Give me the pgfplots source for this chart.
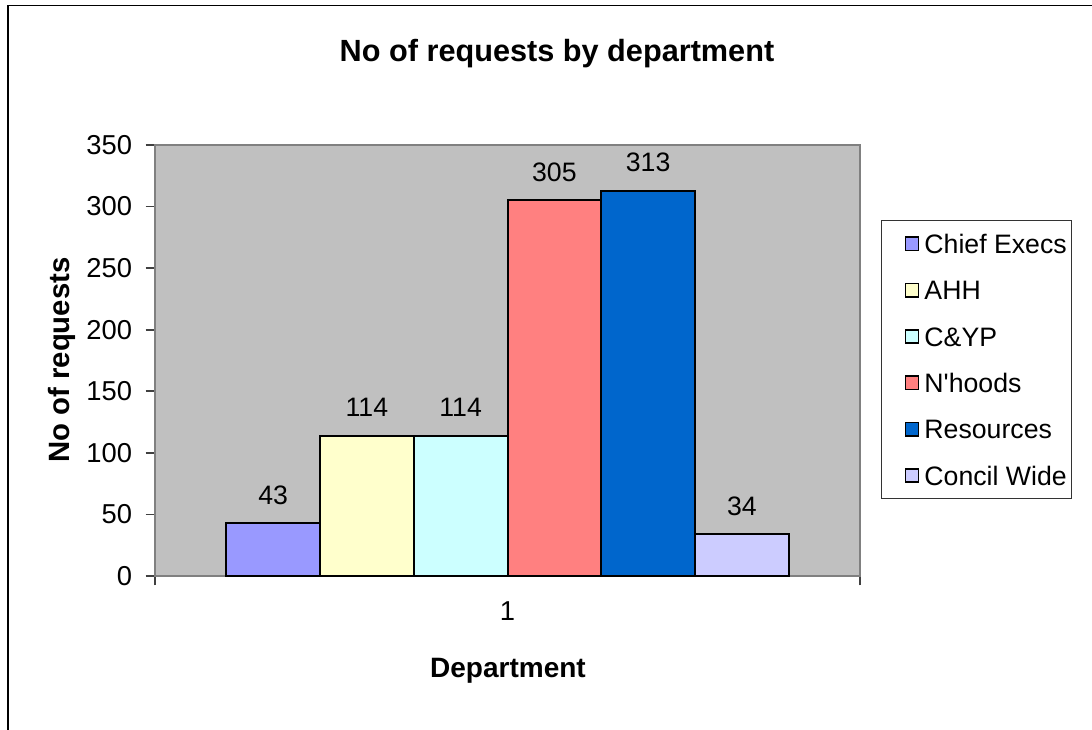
\documentclass[border=0pt]{standalone}
\usepackage{pgfplots}
\pgfplotsset{compat=1.18}
\usepackage{fontspec}
\setmainfont{Liberation Sans}
\pgfkeys{/pgf/number format/assume math mode=true}
\definecolor{cA}{HTML}{9999FF}
\definecolor{cB}{HTML}{FFFFCC}
\definecolor{cC}{HTML}{CCFFFF}
\definecolor{cD}{HTML}{FF8080}
\definecolor{cE}{HTML}{0066CC}
\definecolor{cF}{HTML}{CCCCFF}
\definecolor{plotbg}{HTML}{C0C0C0}
\definecolor{framegray}{HTML}{808080}
\begin{document}
\begin{tikzpicture}
\useasboundingbox (0pt,0pt) rectangle (819pt,-547.5pt);
\draw[line width=1.2pt] (6pt,-560pt) -- (6pt,-4pt) -- (830pt,-4pt);
\begin{axis}[
  at={(116.25pt,-432pt)}, anchor=south west,
  scale only axis, width=528.75pt, height=323.25pt,
  xmin=0.5, xmax=1.5, ymin=0, ymax=350,
  ybar=0pt, bar width=70.3pt,
  axis background/.style={fill=plotbg},
  axis line style={draw=framegray, line width=1.5pt},
  tick pos=left, tick align=outside, major tick length=7pt,
  tick style={draw=black!75, line width=1.2pt},
  ytick={0,50,...,350},
  xtick={0.5,1.5}, xticklabels={},
  extra x ticks={1}, extra x tick labels={1},
  extra x tick style={major tick length=0pt},
  ticklabel style={font=\fontsize{20.5}{24}\selectfont, inner sep=0pt},
  yticklabel style={anchor=east, xshift=-10pt},
  xticklabel style={anchor=north, yshift=-19pt},
  nodes near coords,
  every node near coord/.append style={anchor=base, inner sep=0pt, yshift=14pt, font=\fontsize{20}{24}\selectfont, text=black},
  title={No of requests by department},
  title style={font=\bfseries\fontsize{23}{27}\selectfont, at={(axis description cs:0.5702,1.1926)}, anchor=center},
  xlabel={Department},
  xlabel style={font=\bfseries\fontsize{21}{25}\selectfont, at={(axis description cs:0.5007,-0.221)}, anchor=center},
  ylabel={No of requests},
  ylabel style={font=\bfseries\fontsize{22}{26}\selectfont, at={(axis description cs:-0.1319,0.501)}, anchor=center},
  legend style={at={(axis description cs:1.0298,0.826)}, anchor=north west, draw=black!80, line width=1pt, fill=white, inner xsep=0pt, inner ysep=0pt, row sep=0pt, column sep=0pt, font=\fontsize{20}{24}\selectfont, nodes={inner xsep=3.75pt, inner ysep=0pt, text height=24.6pt, text depth=10.15pt}},
  legend cell align=left,
  legend image code/.code={\path (0pt,0pt); \draw[#1,line width=1.2pt,draw=black] (17pt,-5pt) rectangle (27pt,5pt);},
]
\addplot[fill=cA, draw=black, line width=1.5pt] coordinates {(1,43)};
\addplot[fill=cB, draw=black, line width=1.5pt] coordinates {(1,114)};
\addplot[fill=cC, draw=black, line width=1.5pt] coordinates {(1,114)};
\addplot[fill=cD, draw=black, line width=1.5pt] coordinates {(1,305)};
\addplot[fill=cE, draw=black, line width=1.5pt] coordinates {(1,313)};
\addplot[fill=cF, draw=black, line width=1.5pt] coordinates {(1,34)};
\legend{Chief Execs, AHH, C\&YP, N\textquotesingle hoods, Resources, Concil Wide}
\end{axis}
\end{tikzpicture}
\end{document}
